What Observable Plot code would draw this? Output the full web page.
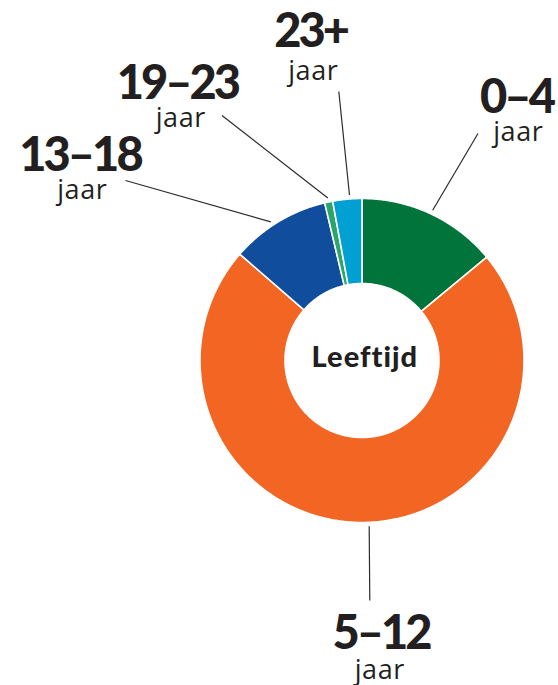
<!DOCTYPE html>
<html>
<head>
<meta charset="utf-8">
<script src="https://cdn.jsdelivr.net/npm/d3@7"></script>
<script src="https://cdn.jsdelivr.net/npm/@observablehq/plot@0.6"></script>
<style>
  html, body { margin: 0; padding: 0; background: #fff; }
  #chart svg { display: block; }
</style>
</head>
<body>
<div id="chart"></div>
<script>
// ---- data ----
const categories = ["0–4", "5–12", "13–18", "19–23", "23+"];
const values = [14.0, 72.4, 9.9, 0.8, 2.9];
const unitLabel = "jaar";
const centerLabel = "Leeftijd";
const colors = ["#00743a", "#f26522", "#104d9c", "#2aa66a", "#00a0d2"];

// ---- layout (pixel offsets relative to donut centre) ----
const R = 162, r = 77;
const leaderEnd = [[116, -227], [7.8, 240], [-236.5, -180], [-140, -245], [-23.2, -269]];
const leaderStartAngleShift = [0, -3.2, -2.2, 0, 0.9]; // degrees
const labelPos = [[156, -248], [20.5, 288.3], [-280.5, -189.3], [-183.2, -261.7], [-49.8, -313.5]];
const unitPos = [[156, -220], [17.5, 318], [-280, -161.7], [-181.5, -234], [-49, -281]];

const pie = d3.pie().sort(null).value(d => d)(values);

// slice outlines
const pts = [];
pie.forEach((s, i) => {
  const a0 = s.startAngle, a1 = s.endAngle;
  const n = Math.max(2, Math.ceil((a1 - a0) / (Math.PI / 360)));
  for (let k = 0; k <= n; k++) {
    const a = a0 + (a1 - a0) * k / n;
    pts.push({cat: categories[i], x: R * Math.sin(a), y: -R * Math.cos(a)});
  }
  for (let k = n; k >= 0; k--) {
    const a = a0 + (a1 - a0) * k / n;
    pts.push({cat: categories[i], x: r * Math.sin(a), y: -r * Math.cos(a)});
  }
});

const labels = pie.map((s, i) => {
  const mid = (s.startAngle + s.endAngle) / 2 + leaderStartAngleShift[i] * Math.PI / 180;
  const rs = R + 4;
  return {
    cat: categories[i],
    x1: rs * Math.sin(mid), y1: -rs * Math.cos(mid),
    x2: leaderEnd[i][0], y2: leaderEnd[i][1],
    lx: labelPos[i][0], ly: labelPos[i][1],
    ux: unitPos[i][0], uy: unitPos[i][1]
  };
});

const chart = Plot.plot({
  width: 558,
  height: 685,
  margin: 0,
  style: {background: "#fff"},
  x: {domain: [-361.5, 196.5], range: [0, 558], axis: null},
  y: {domain: [-360, 325], range: [0, 685], axis: null},
  color: {domain: categories, range: colors},
  marks: [
    Plot.line(pts, {x: "x", y: "y", z: "cat", fill: "cat", stroke: "white", strokeWidth: 1.6, curve: "linear-closed"}),
    Plot.link(labels, {x1: "x1", y1: "y1", x2: "x2", y2: "y2", stroke: "#2b2b2b", strokeWidth: 1.2}),
    Plot.text(labels, {x: "lx", y: "ly", text: "cat", lineAnchor: "bottom", fontSize: 47, fontWeight: 900,
      fontFamily: "Lato, 'Open Sans', sans-serif", fill: "#231f20"}),
    Plot.text(labels, {x: "ux", y: "uy", text: () => unitLabel, lineAnchor: "bottom", fontSize: 27, fontWeight: 400,
      fontFamily: "'Open Sans', sans-serif", fill: "#231f20"}),
    Plot.text([centerLabel], {x: () => 2.3, y: () => 6.7, text: d => d, lineAnchor: "bottom", fontSize: 29, fontWeight: 900,
      fontFamily: "Lato, 'Open Sans', sans-serif", fill: "#231f20"})
  ]
});
// letter spacing (not a Plot option): bold labels, units, centre label
const textGroups = chart.querySelectorAll('g[aria-label="text"]');
const spacing = ["-3px", "0.6px", "1px"];
textGroups.forEach((g, i) => {
  g.querySelectorAll("text").forEach(t => {
    t.style.letterSpacing = spacing[i];
    // compensate trailing spacing shift for middle-anchored text
    const ls = parseFloat(spacing[i]);
    const tr = t.getAttribute("transform") || "";
    t.setAttribute("transform", tr + ` translate(${ls / 2},0)`);
  });
});
document.getElementById("chart").appendChild(chart);
</script>
</body>
</html>
